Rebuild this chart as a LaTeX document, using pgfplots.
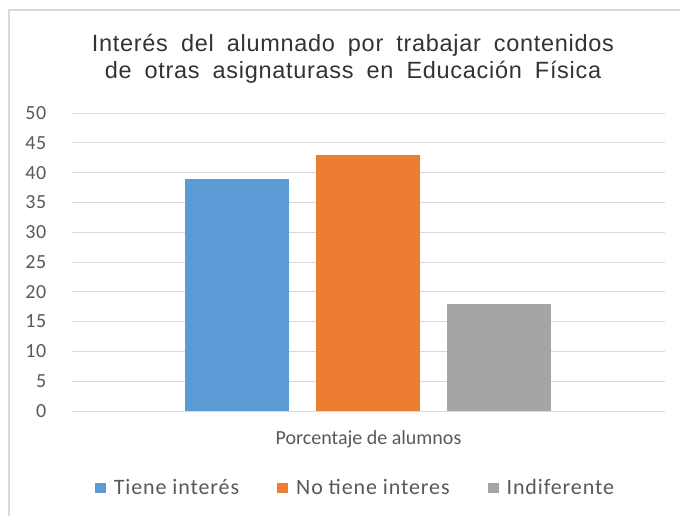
\documentclass[border=0pt]{standalone}
\usepackage{pgfplots}
\pgfplotsset{compat=1.18}
\usepackage{fontspec}
\setmainfont{Carlito}
\newfontfamily\titlefont[WordSpace=1.8, LetterSpace=3]{Liberation Sans}
\newfontfamily\legfont[LetterSpace=4]{Carlito}
\definecolor{cblue}{HTML}{5B9BD5}
\definecolor{corange}{HTML}{ED7D31}
\definecolor{cgray}{HTML}{A5A5A5}
\definecolor{txt}{HTML}{595959}
\definecolor{gridc}{HTML}{D9D9D9}
\begin{document}
\begin{tikzpicture}
\useasboundingbox (0pt,0pt) rectangle (680pt,-515pt);
\draw[gridc, line width=1.2pt] (9pt,-530pt) -- (9pt,-10pt) -- (690pt,-10pt);
\node[font=\titlefont\fontsize{23.5}{27}\selectfont, text=black!80, align=center] at (353pt,-59pt)
  {Interés del alumnado por trabajar contenidos\\de otras asignaturass en Educación Física};
\begin{axis}[
    at={(72pt,-411pt)}, anchor=south west,
    scale only axis, width=593pt, height=298pt,
    ybar, bar width=104pt,
    xmin=-0.265, xmax=4.27,
    ymin=0, ymax=50,
    ytick={0,5,...,50}, xtick=\empty,
    axis x line=bottom, axis y line=left,
    y axis line style={draw=none},
    x axis line style={draw=gridc, line width=1pt, -},
    major tick style={draw=none},
    ymajorgrids, grid style={gridc, line width=1pt},
    /pgf/number format/assume math mode=true,
    tick label style={font=\legfont\fontsize{20}{22}\selectfont, text=txt},
    yticklabel style={xshift=-20pt},
    xlabel={Porcentaje de alumnos},
    xlabel style={at={(axis description cs:0.5,-0.094)}, anchor=center, font=\fontsize{20}{22}\selectfont, text=txt},
    legend columns=3,
    legend style={at={(axis description cs:0.478,-0.258)}, anchor=center, draw=none,
      font=\legfont\fontsize{22}{24}\selectfont, text=txt,
      /tikz/every odd column/.append style={column sep=6pt},
      /tikz/every even column/.append style={column sep=36pt}},
    legend image code/.code={\fill[#1, draw=none] (0pt,-5pt) rectangle (11pt,5pt);},
]
\addplot[fill=cblue, draw=none, bar shift=0pt] coordinates {(1,39)};
\addlegendentry{Tiene interés}
\addplot[fill=corange, draw=none, bar shift=0pt] coordinates {(2,43)};
\addlegendentry{No tiene interes}
\addplot[fill=cgray, draw=none, bar shift=0pt] coordinates {(3,18)};
\addlegendentry{Indiferente}
\end{axis}
\end{tikzpicture}
\end{document}
